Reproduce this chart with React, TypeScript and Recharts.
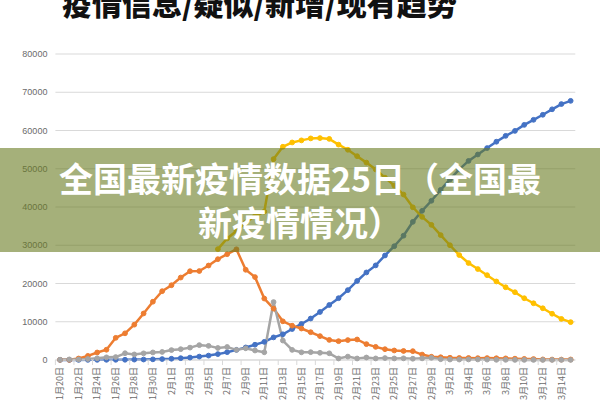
import React from "react";
import { LineChart, Line, XAxis, YAxis, CartesianGrid } from "recharts";

const dates: string[] = [
  "1月20日", "1月21日", "1月22日", "1月23日", "1月24日", "1月25日", "1月26日", "1月27日", "1月28日", "1月29日", "1月30日", "1月31日",
  "2月1日", "2月2日", "2月3日", "2月4日", "2月5日", "2月6日", "2月7日", "2月8日", "2月9日", "2月10日",
  "2月11日", "2月12日", "2月13日", "2月14日", "2月15日", "2月16日", "2月17日", "2月18日", "2月19日", "2月20日",
  "2月21日", "2月22日", "2月23日", "2月24日", "2月25日", "2月26日", "2月27日", "2月28日", "2月29日",
  "3月1日", "3月2日", "3月3日", "3月4日", "3月5日", "3月6日", "3月7日", "3月8日", "3月9日", "3月10日",
  "3月11日", "3月12日", "3月13日", "3月14日", "3月15日",
];

// blue: cumulative cured
const cured: (number | null)[] = [
  25, 25, 28, 34, 38, 49, 51, 60, 103, 124, 171, 243,
  328, 475, 632, 892, 1153, 1540, 2050, 2649, 3281, 3996,
  4740, 5911, 6723, 8096, 9419, 10844, 12552, 14376, 16155, 18264,
  20659, 22888, 24734, 27323, 29745, 32495, 36117, 39002, 41625,
  44462, 47204, 49856, 52045, 53726, 55404, 57065, 58600, 59897, 61475,
  62793, 64111, 65541, 66911, 67749,
];

// orange: suspected
const suspected: (number | null)[] = [
  54, 37, 393, 1072, 1965, 2684, 5794, 6973, 9239, 12167, 15238, 17988,
  19544, 21558, 23214, 23260, 24702, 26359, 27657, 28942, 23589, 21675,
  16067, 13435, 10109, 8969, 8228, 7264, 6242, 5248, 4922, 5206,
  5365, 4148, 3434, 2824, 2491, 2358, 2308, 1418, 851,
  715, 587, 520, 522, 482, 502, 458, 421, 349, 285,
  253, 147, 115, 113, 134,
];

// gray: new confirmed
const newConfirmed: (number | null)[] = [
  77, 149, 131, 259, 444, 688, 769, 1771, 1459, 1737, 1982, 2102,
  2590, 2829, 3235, 3887, 3694, 3143, 3399, 2656, 3062, 2478,
  2015, 15152, 5090, 2641, 2009, 2048, 1886, 1749, 394, 889,
  397, 648, 409, 508, 406, 433, 327, 427, 573,
  202, 125, 119, 139, 143, 99, 44, 40, 19, 24,
  15, 8, 11, 20, 16,
];

// yellow: existing confirmed
const existing: (number | null)[] = [
  null, null, null, null, null, null, null, null, null, null, null, null,
  null, null, null, null, null, 28985, 31774, 33738, 35982, 37626,
  38800, 52526, 55748, 56873, 57416, 57934, 58016, 57805, 56303, 54965,
  53284, 51606, 49824, 47672, 45604, 43258, 39919, 37414, 35329,
  32652, 30004, 27433, 25352, 23784, 22177, 20533, 19016, 17721, 16145,
  14831, 13526, 12094, 10734, 9898,
];

const yTicks: number[] = [0, 10000, 20000, 30000, 40000, 50000, 60000, 70000, 80000];

const titleText = "疫情信息/疑似/新增/现有趋势";
const overlayLine1 = "全国最新疫情数据25日（全国最";
const overlayLine2 = "新疫情情况）";

const data = dates.map((d, i) => ({
  date: d,
  cured: cured[i],
  suspected: suspected[i],
  newConfirmed: newConfirmed[i],
  existing: existing[i],
}));

const BLUE = "#4472C4";
const ORANGE = "#ED7D31";
const GRAY = "#A5A5A5";
const YELLOW = "#FFC000";
const HALF_BAND = 4.64;

const XTick = (props: any) => {
  const { x, y, payload } = props;
  return (
    <g>
      <line x1={x - HALF_BAND} x2={x - HALF_BAND} y1={y} y2={y + 5} stroke="#D9D9D9" strokeWidth={1} />
      <text
        transform={`translate(${x},${y + 7}) rotate(-90)`}
        textAnchor="end"
        dy="0.35em"
        fontSize={9}
        fontFamily="Noto Sans CJK SC"
        fill="#6b6b6b"
      >
        {payload.value}
      </text>
    </g>
  );
};

const dot = (c: string) => ({ r: 2.4, fill: c, stroke: c, strokeWidth: 1 });

export default function App() {
  return (
    <div style={{ position: "fixed", left: 0, top: 0, width: 600, height: 400, background: "#fff", overflow: "hidden" }}>
      <LineChart width={600} height={400} data={data} margin={{ top: 54, right: 24.7, bottom: 0, left: 0 }}>
        <CartesianGrid vertical={false} stroke="#D9D9D9" />
        <XAxis
          dataKey="date"
          interval={1}
          height={40}
          tickSize={0}
          tickMargin={0}
          tick={<XTick />}
          axisLine={{ stroke: "#D9D9D9" }}
          tickLine={false}
          padding={{ left: HALF_BAND, right: HALF_BAND }}
        />
        <YAxis
          type="number"
          domain={[0, 80000]}
          ticks={yTicks}
          width={55.4}
          axisLine={false}
          tickLine={false}
          tickSize={0}
          tickMargin={8}
          tick={{ fontSize: 9, fill: "#6b6b6b", fontFamily: "Liberation Sans" }}
          interval={0}
        />
        <Line type="linear" dataKey="cured" stroke={BLUE} strokeWidth={2.5} dot={dot(BLUE)} isAnimationActive={false} />
        <Line type="linear" dataKey="suspected" stroke={ORANGE} strokeWidth={2.5} dot={dot(ORANGE)} isAnimationActive={false} />
        <Line type="linear" dataKey="newConfirmed" stroke={GRAY} strokeWidth={2.5} dot={dot(GRAY)} isAnimationActive={false} />
        <Line type="linear" dataKey="existing" stroke={YELLOW} strokeWidth={2.5} dot={dot(YELLOW)} isAnimationActive={false} />
      </LineChart>
      <svg width={600} height={400} style={{ position: "absolute", left: 0, top: 0, pointerEvents: "none" }}>
        <text x={62} y={15} fontSize={30} fontWeight={900} fontFamily="Noto Sans CJK SC" fill="#111">
          {titleText}
        </text>
        <rect x={0} y={148} width={600} height={104} fill="rgba(105,123,33,0.6)" />
        <text x={300} y={192} textAnchor="middle" fontSize={34} fontWeight={700} fontFamily="Noto Sans CJK SC" fill="#fff">
          {overlayLine1}
        </text>
        <text x={300} y={235.5} textAnchor="middle" fontSize={34} fontWeight={700} fontFamily="Noto Sans CJK SC" fill="#fff">
          {overlayLine2}
        </text>
      </svg>
    </div>
  );
}
